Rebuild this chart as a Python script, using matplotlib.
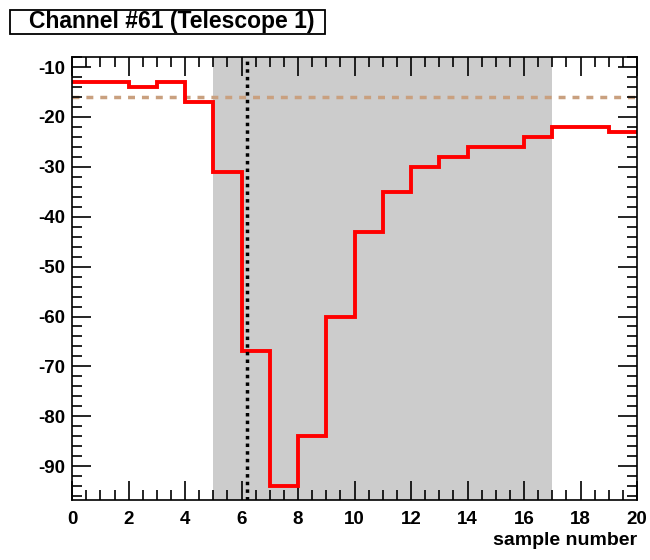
import numpy as np
import matplotlib.pyplot as plt
from matplotlib.ticker import MultipleLocator
from matplotlib.patches import Rectangle

plt.rcParams['font.family'] = ['Liberation Sans', 'DejaVu Sans']
plt.rcParams['axes.unicode_minus'] = False

# pulse samples per bin (20 bins, 0..20)
edges = np.arange(0, 21)
samples = [-13, -13, -14, -13, -17, -31, -67, -94, -84, -60,
           -43, -35, -30, -28, -26, -26, -24, -22, -22, -23]

threshold = -16
peak_time = 6.2
window = (5, 17)
title = "Channel #61 (Telescope 1)"

fig = plt.figure(figsize=(6.5, 5.6), dpi=100)
ax = fig.add_axes([0.111, 0.107, 0.869, 0.791])

ax.axvspan(window[0], window[1], color='#cccccc', lw=0, zorder=0)
ax.axhline(threshold, color='#c9a07f', lw=2.5, ls=(0, (2, 2)), zorder=1)
ax.stairs(samples, edges, color='red', lw=2.8, baseline=None, zorder=2)
ax.axvline(peak_time, color='black', lw=2.5, ls=(0, (1, 1.2)), zorder=3)

ax.set_xlim(0, 20)
ax.set_ylim(-96.8, -8)

ax.xaxis.set_major_locator(MultipleLocator(2))
ax.xaxis.set_minor_locator(MultipleLocator(0.5))
ax.yaxis.set_major_locator(MultipleLocator(10))
ax.yaxis.set_minor_locator(MultipleLocator(2))
ax.tick_params(which='both', direction='in', top=True, right=True, width=1.2)
ax.tick_params(which='major', length=14, labelsize=13.5, pad=5)
ax.tick_params(axis='x', which='major', pad=8)
ax.tick_params(which='minor', length=7)
for lbl in ax.get_xticklabels() + ax.get_yticklabels():
    lbl.set_fontweight('bold')
for s in ax.spines.values():
    s.set_linewidth(1.2)

ax.set_xlabel("sample number", fontsize=14, fontweight='bold', loc='right', labelpad=3)

# title box in the top-left corner
fig.patches.append(Rectangle((10 / 650, 1 - 34 / 560), 315 / 650, 24 / 560,
                             transform=fig.transFigure, fc='white', ec='black', lw=1.3))
fig.text(29 / 650, 1 - 21.5 / 560, title, fontsize=16.5, fontweight='bold',
         va='center', ha='left')

fig.savefig('out.png', dpi=100)
